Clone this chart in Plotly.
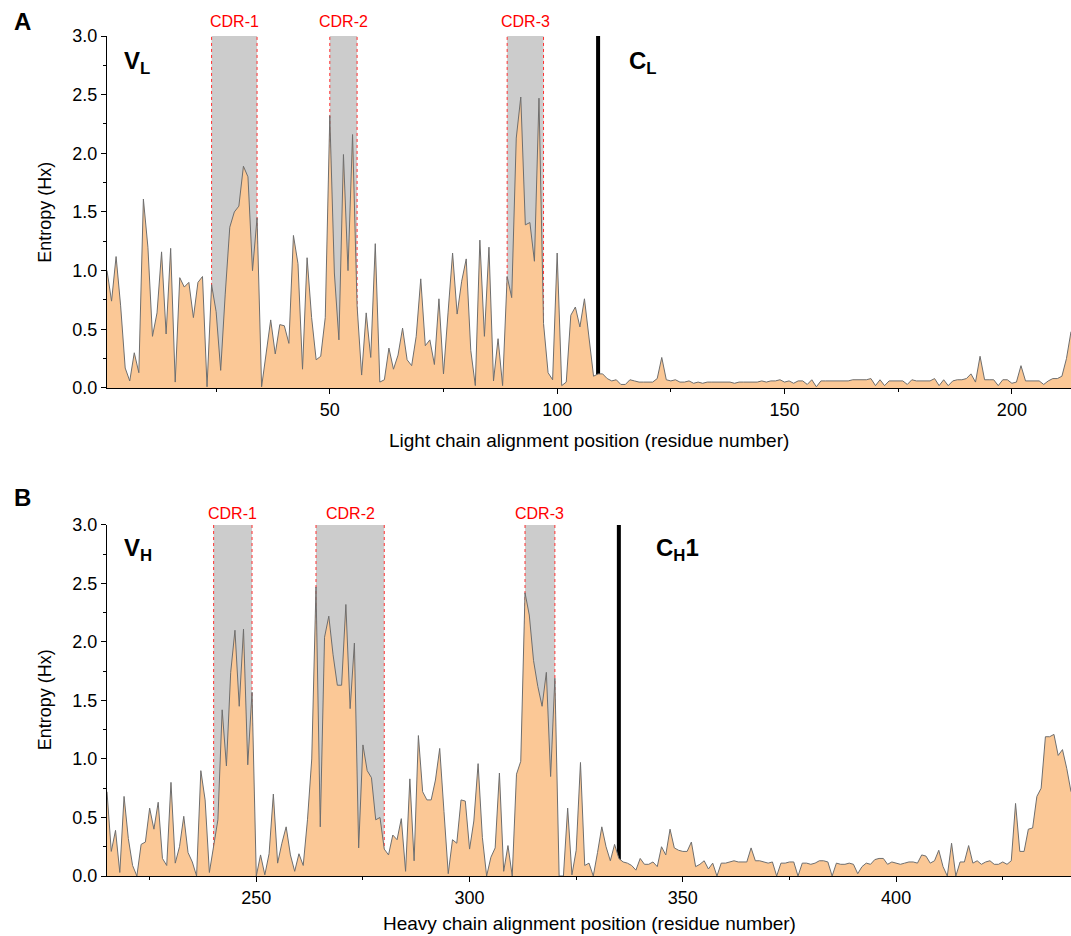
import plotly.graph_objects as go
from plotly.subplots import make_subplots

# light chain: residue 1..213
light_pos = list(range(1, 214))
light_entropy = [
    1.00, 0.74, 1.12, 0.70, 0.17, 0.06, 0.30, 0.13, 1.61, 1.20,
    0.44, 0.64, 1.16, 0.46, 1.19, 0.05, 0.94, 0.86, 0.90, 0.60,
    0.90, 0.95, 0.01, 0.88, 0.65, 0.15, 0.80, 1.37, 1.50, 1.55,
    1.89, 1.80, 1.00, 1.45, 0.01, 0.30, 0.58, 0.29, 0.54, 0.53,
    0.38, 1.30, 1.06, 0.16, 1.11, 0.60, 0.24, 0.27, 0.60, 2.32,
    0.98, 0.41, 1.99, 1.00, 2.16, 0.70, 0.11, 0.64, 0.26, 1.23,
    0.05, 0.07, 0.34, 0.16, 0.28, 0.51, 0.24, 0.19, 0.44, 0.93,
    0.36, 0.41, 0.20, 0.76, 0.12, 0.64, 1.15, 0.63, 0.91, 1.10,
    0.32, 0.02, 1.26, 0.44, 1.20, 0.06, 0.42, 0.02, 0.95, 0.77,
    2.13, 2.48, 1.39, 1.41, 1.08, 2.47, 0.55, 0.13, 0.07, 1.15,
    0.02, 0.05, 0.62, 0.69, 0.52, 0.76, 0.45, 0.10, 0.12, 0.12,
    0.08, 0.06, 0.07, 0.03, 0.03, 0.07, 0.06, 0.05, 0.05, 0.05,
    0.05, 0.08, 0.26, 0.07, 0.06, 0.07, 0.05, 0.05, 0.06, 0.04,
    0.05, 0.04, 0.05, 0.05, 0.05, 0.05, 0.05, 0.05, 0.04, 0.05,
    0.05, 0.05, 0.05, 0.05, 0.06, 0.05, 0.06, 0.06, 0.07, 0.05,
    0.06, 0.04, 0.06, 0.06, 0.03, 0.07, 0.01, 0.06, 0.06, 0.06,
    0.06, 0.06, 0.06, 0.06, 0.07, 0.07, 0.07, 0.07, 0.08, 0.02,
    0.07, 0.02, 0.06, 0.06, 0.06, 0.06, 0.03, 0.07, 0.06, 0.06,
    0.06, 0.06, 0.08, 0.02, 0.07, 0.02, 0.06, 0.07, 0.07, 0.08,
    0.12, 0.05, 0.27, 0.07, 0.07, 0.07, 0.02, 0.07, 0.07, 0.04,
    0.05, 0.19, 0.06, 0.06, 0.06, 0.06, 0.03, 0.06, 0.08, 0.08,
    0.10, 0.25, 0.48,
]

# heavy chain: residue 215..441
heavy_pos = list(range(215, 442))
heavy_entropy = [
    0.72, 0.21, 0.39, 0.03, 0.68, 0.32, 0.09, 0.00, 0.27, 0.29,
    0.58, 0.40, 0.63, 0.15, 0.09, 0.80, 0.11, 0.25, 0.51, 0.20,
    0.12, 0.00, 0.90, 0.65, 0.03, 0.26, 0.48, 1.42, 0.94, 1.74,
    2.10, 1.45, 2.11, 0.95, 1.57, 0.00, 0.18, 0.01, 0.19, 0.70,
    0.11, 0.28, 0.42, 0.18, 0.04, 0.19, 0.09, 0.48, 1.00, 2.47,
    0.42, 2.04, 2.22, 1.89, 1.63, 1.63, 2.32, 1.43, 1.99, 0.24,
    1.12, 0.90, 0.84, 0.48, 0.50, 0.23, 0.18, 0.35, 0.31, 0.49,
    0.04, 0.83, 0.13, 1.20, 0.72, 0.65, 0.65, 0.82, 1.09, 0.55,
    0.02, 0.31, 0.28, 0.65, 0.64, 0.23, 0.47, 0.96, 0.33, 0.00,
    0.16, 0.24, 0.88, 0.04, 0.26, 0.00, 0.87, 0.98, 2.42, 2.23,
    1.84, 1.62, 1.45, 1.74, 0.85, 1.69, 0.00, 0.00, 0.58, 0.01,
    0.22, 0.97, 0.09, 0.11, 0.00, 0.20, 0.42, 0.25, 0.13, 0.27,
    0.15, 0.12, 0.11, 0.09, 0.05, 0.15, 0.10, 0.10, 0.12, 0.08,
    0.25, 0.18, 0.40, 0.24, 0.22, 0.21, 0.21, 0.29, 0.08, 0.10,
    0.13, 0.06, 0.11, 0.00, 0.11, 0.11, 0.12, 0.13, 0.12, 0.12,
    0.12, 0.24, 0.13, 0.13, 0.12, 0.11, 0.12, 0.00, 0.11, 0.11,
    0.12, 0.12, 0.00, 0.11, 0.11, 0.10, 0.11, 0.13, 0.13, 0.12,
    0.00, 0.11, 0.10, 0.10, 0.11, 0.10, 0.02, 0.08, 0.11, 0.10,
    0.14, 0.15, 0.15, 0.10, 0.12, 0.11, 0.10, 0.11, 0.12, 0.12,
    0.11, 0.18, 0.17, 0.11, 0.13, 0.22, 0.08, 0.00, 0.28, 0.00,
    0.12, 0.12, 0.26, 0.11, 0.13, 0.10, 0.12, 0.13, 0.10, 0.10,
    0.12, 0.10, 0.13, 0.62, 0.21, 0.21, 0.40, 0.41, 0.68, 0.75,
    1.19, 1.19, 1.21, 1.03, 1.08, 0.92, 0.72,
]

cdr_names = ["CDR-1", "CDR-2", "CDR-3"]
light_cdr_start = [24, 50, 89]
light_cdr_end = [34, 56, 97]
heavy_cdr_start = [240, 264, 313]
heavy_cdr_end = [249, 280, 320]
light_const_start = 109
heavy_const_start = 335

FONT = "Liberation Sans, Arial, sans-serif"
FILL = "#FBC896"
EDGE = "#6E6E6E"

fig = make_subplots(rows=2, cols=1)

fig.add_trace(
    go.Scatter(x=light_pos, y=light_entropy, mode="lines", fill="tozeroy",
               fillcolor=FILL, line=dict(color=EDGE, width=1), showlegend=False),
    row=1, col=1,
)
fig.add_trace(
    go.Scatter(x=heavy_pos, y=heavy_entropy, mode="lines", fill="tozeroy",
               fillcolor=FILL, line=dict(color=EDGE, width=1), showlegend=False),
    row=2, col=1,
)

# CDR bands, red dotted edges, domain boundary
for xr, yr, starts, ends, const, ylab in [
    ("x", "y", light_cdr_start, light_cdr_end, light_const_start, 1.017),
    ("x2", "y2", heavy_cdr_start, heavy_cdr_end, heavy_const_start, 0.431),
]:
    for name, a, b in zip(cdr_names, starts, ends):
        fig.add_shape(type="rect", xref=xr, yref=yr, x0=a, x1=b, y0=0, y1=3,
                      fillcolor="#CCCCCC", line=dict(width=0), layer="below")
        for xv in (a, b):
            fig.add_shape(type="line", xref=xr, yref=yr, x0=xv, x1=xv, y0=0, y1=3,
                          line=dict(color="#FF3030", width=1, dash="dot"), layer="below")
        fig.add_annotation(text=name, xref=xr, yref="paper", x=(a + b) / 2, y=ylab,
                           xanchor="center", yanchor="middle", showarrow=False,
                           font=dict(family=FONT, size=16, color="#FF0000"))
    fig.add_shape(type="line", xref=xr, yref=yr, x0=const, x1=const, y0=0, y1=3,
                  line=dict(color="black", width=4), layer="below")

axis_common = dict(
    showline=True, linecolor="black", linewidth=1, mirror=False,
    ticks="outside", ticklen=5, tickwidth=1, tickcolor="black",
    showgrid=False, zeroline=False,
    tickfont=dict(family=FONT, size=18, color="black"),
)
fig.update_xaxes(dtick=50, tick0=0,
                 minor=dict(ticks="outside", ticklen=3, dtick=25, tick0=0, tickcolor="black"),
                 **axis_common)
fig.update_yaxes(range=[0, 3], dtick=0.5, tick0=0, tickformat=".1f",
                 minor=dict(ticks="outside", ticklen=3, dtick=0.25, tick0=0, tickcolor="black"),
                 **axis_common)

fig.update_layout(
    xaxis=dict(domain=[0, 1], range=[1, 213]),
    xaxis2=dict(domain=[0, 1], range=[215, 441]),
    yaxis=dict(domain=[0.581, 1.0]),
    yaxis2=dict(domain=[0.0, 0.418]),
)

texts = [
    ("Light chain alignment position (residue number)", 0.5, 0.519, 0, 19),
    ("Heavy chain alignment position (residue number)", 0.5, -0.057, 0, 19),
    ("Entropy (Hx)", -0.064, 0.790, -90, 18),
    ("Entropy (Hx)", -0.064, 0.2095, -90, 18),
]
for t, xp, yp, ang, fs in texts:
    fig.add_annotation(text=t, xref="paper", yref="paper", x=xp, y=yp,
                       xanchor="center", yanchor="middle", showarrow=False,
                       textangle=ang, font=dict(family=FONT, size=fs, color="black"))

big = dict(family=FONT, size=24, color="black")
marks = [
    ("<b>A</b>", "paper", -0.088, 1.017, "center"),
    ("<b>B</b>", "paper", -0.088, 0.451, "center"),
    ("<b>V<sub>L</sub></b>", "paper", 0.0156, 0.969, "left"),
    ("<b>C<sub>L</sub></b>", "x", 115.3, 0.969, "left"),
    ("<b>V<sub>H</sub></b>", "paper", 0.0156, 0.389, "left"),
    ("<b>C<sub>H</sub>1</b>", "x2", 343.3, 0.389, "left"),
]
for t, xr, xp, yp, xa in marks:
    fig.add_annotation(text=t, xref=xr, yref="paper", x=xp, y=yp,
                       xanchor=xa, yanchor="middle", showarrow=False, font=big)

fig.update_layout(
    width=1071, height=936,
    margin=dict(l=107, r=0, t=36, b=60),
    plot_bgcolor="white", paper_bgcolor="white",
    font=dict(family=FONT, color="black"),
    showlegend=False,
)

fig.write_html("out.html", config={"displayModeBar": False},
               post_script="document.body.style.margin='0px';document.body.style.overflow='hidden';")
